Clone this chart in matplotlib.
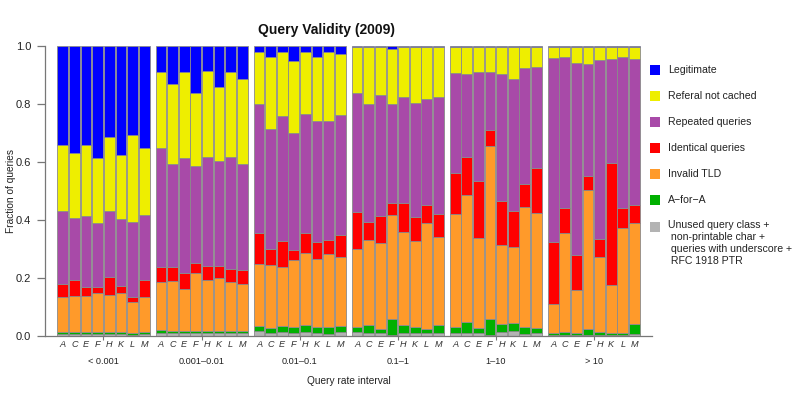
import matplotlib
matplotlib.use("Agg")
import matplotlib.pyplot as plt
from matplotlib.patches import Rectangle
import numpy as np

plt.rcParams['font.family'] = ['Liberation Sans', 'DejaVu Sans']

servers = ["A", "C", "E", "F", "H", "K", "L", "M"]
intervals = ["< 0.001", "0.001\u20130.01", "0.01\u20130.1", "0.1\u20131", "1\u201310", "> 10"]

# fractions per interval (rows) and root server (columns A C E F H K L M)
unused = [
    [.007, .007, .007, .007, .007, .007, .005, .007],
    [.009, .009, .009, .009, .009, .009, .009, .009],
    [.018, .011, .014, .011, .014, .011, .007, .014],
    [.014, .011, .009, .005, .011, .009, .009, .011],
    [.011, .009, .009, .005, .014, .018, .007, .009],
    [.004, .005, .003, .005, .005, .003, .005, .007],
]
a_for_a = [
    [.007, .007, .007, .007, .007, .007, .006, .007],
    [.012, .007, .007, .007, .007, .007, .007, .007],
    [.016, .017, .020, .019, .023, .021, .023, .020],
    [.016, .026, .014, .052, .026, .023, .014, .026],
    [.019, .040, .019, .055, .027, .028, .025, .019],
    [.005, .009, .008, .018, .009, .006, .006, .034],
]
invalid_tld = [
    [.122, .125, .125, .133, .129, .133, .106, .122],
    [.165, .175, .145, .202, .177, .184, .170, .163],
    [.214, .216, .205, .232, .250, .234, .254, .237],
    [.271, .294, .297, .361, .323, .296, .366, .304],
    [.392, .436, .310, .595, .273, .262, .412, .397],
    [.101, .340, .148, .480, .260, .166, .360, .350],
]
identical = [
    [.043, .054, .029, .021, .062, .025, .019, .057],
    [.051, .046, .055, .033, .048, .041, .044, .049],
    [.106, .056, .090, .035, .067, .059, .047, .076],
    [.125, .063, .095, .039, .097, .081, .064, .080],
    [.139, .131, .198, .054, .153, .124, .081, .154],
    [.215, .086, .121, .049, .059, .423, .072, .062],
]
repeated = [
    [.252, .213, .246, .221, .226, .230, .257, .225],
    [.412, .357, .399, .336, .375, .361, .388, .366],
    [.445, .413, .430, .402, .412, .415, .409, .414],
    [.413, .405, .415, .342, .368, .396, .364, .404],
    [.347, .287, .374, .202, .436, .453, .399, .350],
    [.635, .521, .660, .386, .619, .358, .520, .501],
]
referal = [
    [.228, .224, .246, .225, .256, .223, .299, .229],
    [.261, .275, .294, .250, .298, .257, .291, .291],
    [.180, .248, .220, .250, .213, .221, .239, .211],
    [.156, .196, .165, .189, .172, .190, .178, .170],
    [.090, .095, .088, .087, .095, .113, .074, .069],
    [.038, .037, .058, .060, .046, .042, .035, .044],
]
legitimate = [
    [.341, .370, .340, .386, .313, .375, .308, .353],
    [.090, .131, .091, .163, .086, .141, .091, .115],
    [.021, .039, .021, .051, .021, .039, .021, .028],
    [.005, .005, .005, .012, .003, .005, .005, .005],
    [.002, .002, .002, .002, .002, .002, .002, .002],
    [.002, .002, .002, .002, .002, .002, .002, .002],
]

series = [
    ("Unused query class +\n non-printable char +\n queries with underscore +\n RFC 1918 PTR", unused, "#b3b3b3"),
    ("A\u2212for\u2212A", a_for_a, "#00b000"),
    ("Invalid TLD", invalid_tld, "#ff9a2a"),
    ("Identical queries", identical, "#ff0000"),
    ("Repeated queries", repeated, "#a84aa8"),
    ("Referal not cached", referal, "#eeee00"),
    ("Legitimate", legitimate, "#0000ff"),
]

W, H = 800, 400
fig = plt.figure(figsize=(8, 4), dpi=100)

ax_left, ax_right, ax_top, ax_bot = 45, 652, 46, 336
ax = fig.add_axes([ax_left / W, 1 - ax_bot / H, (ax_right - ax_left) / W, (ax_bot - ax_top) / H])

pitch = 8.45
n_g, n_s = len(intervals), len(servers)
xs = np.array([g * pitch + j for g in range(n_g) for j in range(n_s)])

bottom = np.zeros(n_g * n_s)
for label, vals, col in series:
    v = np.array(vals).ravel()
    ax.bar(xs, v, width=0.93, bottom=bottom, color=col, edgecolor="#8a8a8a", linewidth=0.6)
    bottom += v

ax.set_xlim(-1.54, 50.76)
ax.set_ylim(0, 1)

for s in ["top", "right"]:
    ax.spines[s].set_visible(False)
for s in ["left", "bottom"]:
    ax.spines[s].set_color("#777777")
    ax.spines[s].set_linewidth(0.9)

ax.set_yticks([0, 0.2, 0.4, 0.6, 0.8, 1.0])
ax.set_yticklabels(["0.0", "0.2", "0.4", "0.6", "0.8", "1.0"], fontsize=8, color="#222222")
ax.tick_params(axis="y", length=6, width=0.9, color="#777777", pad=4)

gcent = [g * pitch + 3.5 for g in range(n_g)]
ax.set_xticks(gcent)
ax.set_xticklabels([])
ax.tick_params(axis="x", length=3, width=0.8, color="#777777")

fig.text(11 / W, 1 - 191 / H, "Fraction of queries", rotation=90, ha="center", va="center",
         fontsize=7.3, color="#222222")

# server letters and interval labels
for x, s in zip(xs, [s for _ in range(n_g) for s in servers]):
    ax.text(x, -0.028, s, ha="center", va="center", fontsize=6.6, style="italic",
            color="#333333", transform=ax.get_xaxis_transform())
for gc, lab in zip(gcent, intervals):
    ax.text(gc, -0.088, lab, ha="center", va="center", fontsize=6.6,
            color="#222222", transform=ax.get_xaxis_transform())
ax.text(24.6, -0.154, "Query rate interval", ha="center", va="center", fontsize=7.3,
        color="#222222", transform=ax.get_xaxis_transform())

fig.text(327 / W, 1 - 30 / H, "Query Validity (2009)", ha="center", va="center",
         fontsize=10, fontweight="bold", color="#111111")

# legend (top to bottom)
leg_y = [70, 96, 122, 148, 174, 200, 226.5]
for (label, vals, col), py in zip(series[::-1], leg_y):
    fig.add_artist(Rectangle(((650) / W, 1 - (py + 5) / H), 10 / W, 10 / H,
                             transform=fig.transFigure, facecolor=col, edgecolor="none"))
    if "\n" in label:
        fig.text(668 / W, 1 - (py - 6) / H, label, ha="left", va="top", fontsize=7.6,
                 color="#222222", linespacing=1.22)
    else:
        fig.text(668 / W, 1 - py / H, label, ha="left", va="center", fontsize=7.6,
                 color="#222222")

fig.savefig("out.png", dpi=100)
